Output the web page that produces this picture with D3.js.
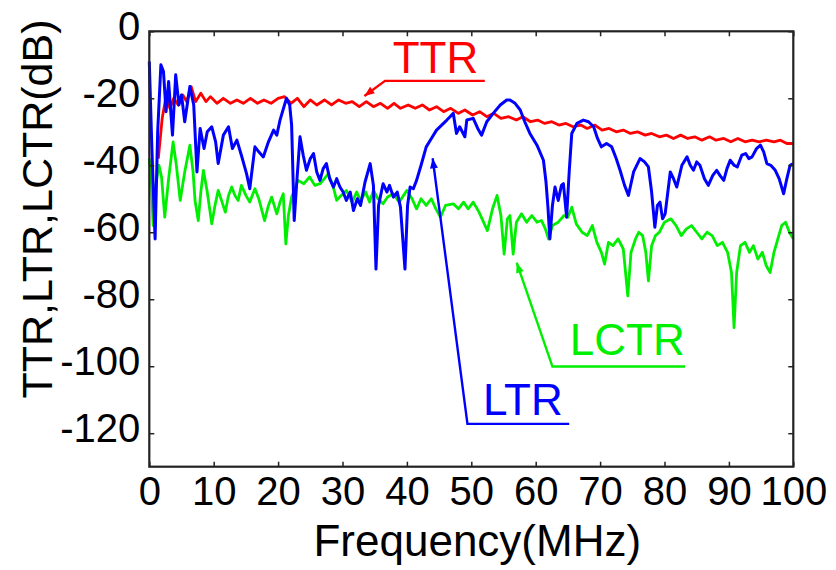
<!DOCTYPE html>
<html><head><meta charset="utf-8">
<script src="https://cdn.jsdelivr.net/npm/d3@7"></script>
<style>body{margin:0;background:#fff}svg{display:block}text{font-family:"Liberation Sans",Arial,sans-serif}</style>
</head><body><svg id="c" width="836" height="570"></svg>
<script>
const xTicks = [0,10,20,30,40,50,60,70,80,90,100];
const yTicks = [0,-20,-40,-60,-80,-100,-120];
const xLabel = "Frequency(MHz)";
const yLabel = "TTR,LTR,LCTR(dB)";

const ttrFreq = [1.4,2.0,2.6,3.2,3.8,4.5,5.2,5.8,6.5,7.2,8.0,8.8,9.5,10.5,11.5,12.6,13.6,14.6,15.7,16.8,17.8,18.9,20,21,22,23,24,25,26,27.2,28.3,29.4,30.5,31.5,32.6,33.7,34.8,35.9,37,38,39,40.2,41.3,42.4,43.5,44.6,45.7,46.8,48,49,50.2,51.3,52.4,53.5,54.6,55.8,57,58,59.2,60.3,61.4,62.5,63.6,64.7,65.8,67,68,69.2,70.3,71.4,72.5,73.6,74.7,75.8,77,78,79.2,80.3,81.4,82.5,83.6,84.7,85.8,87,88,89.2,90.3,91.4,92.5,93.6,94.7,95.8,97,98,99,100];
const ttrVals = [-38,-26,-19.5,-23,-20,-22,-19,-21,-16.5,-21,-18.5,-21,-19.5,-21.5,-20,-21.5,-20.5,-21.5,-20,-21.5,-20.5,-21.5,-20,-19.5,-21.5,-20,-22.5,-20.5,-22,-20.5,-22,-20.5,-21.5,-21,-22.5,-21,-22.5,-21.5,-23,-21.5,-23,-22,-23,-22,-23.5,-22.5,-24,-23,-24.5,-23.5,-25,-24,-25.5,-24.5,-26,-25.5,-26.5,-25.5,-27,-26.5,-27.5,-27,-28,-27.5,-28.5,-28,-29,-28,-29.5,-29,-30,-29.5,-30.5,-30,-31,-30.5,-31.5,-31,-32,-31,-32,-31.5,-32.5,-31.5,-32.5,-32,-33,-32,-33,-32.5,-33,-32.5,-33,-32.5,-33.5,-33.5];

const ltrFreq = [0,0.4,0.9,1.3,1.8,2.2,2.6,3.0,3.6,4.1,4.6,5.0,5.5,6.3,6.9,7.4,7.9,8.5,9.0,9.7,10.3,10.7,11.5,12.3,12.9,13.6,14.3,15.1,15.6,16.4,17.0,17.7,18.5,19.3,19.8,20.3,21.3,21.8,22.1,22.5,22.9,23.4,23.9,24.4,25.0,25.5,26.0,26.5,27.0,27.5,28.0,28.6,29.1,29.6,30.1,30.6,31.2,31.7,32.3,32.8,33.5,34.3,34.8,35.2,35.6,36.3,36.9,37.3,37.9,38.5,39.0,39.7,40.1,40.5,41.0,41.5,42.2,43.0,43.8,44.6,45.4,46.2,46.7,47.2,47.7,48.2,49.0,49.3,50.3,51.0,51.6,52.4,53.4,54.5,55.5,56.0,56.8,57.6,58.3,59.1,60.2,61.2,61.6,61.9,62.2,62.6,63.0,63.5,64.0,64.3,64.8,65.2,65.6,66.4,67.4,68.2,69.0,69.6,70.2,71.0,71.8,72.5,73.1,73.8,74.4,75.2,76.2,76.9,77.5,78.0,78.5,78.9,79.3,79.7,80.1,80.9,81.4,81.9,82.7,83.5,84.0,84.5,85.0,85.5,86.2,86.8,87.5,88.1,88.6,89.2,89.7,90.2,90.8,91.3,92.0,92.6,93.1,93.6,94.3,94.9,95.4,95.9,96.5,97.2,97.8,98.5,99.0,99.5,100];
const ltrVals = [-9,-35,-62,-30,-10,-12,-24,-15,-31,-13,-22,-19,-27,-16.5,-22,-42,-29,-35,-30,-28.5,-33,-39.5,-31,-28.5,-35,-32.5,-37,-42.5,-47,-34.5,-36,-37.5,-33,-29.5,-31,-26.5,-20,-22,-28,-56.5,-45,-31.5,-37,-41.5,-38,-36.5,-42,-44.5,-41,-39.5,-44,-46.5,-44,-46.5,-48,-50.5,-48,-53.5,-50,-52,-45,-39.5,-46,-71,-52,-45.5,-48,-46,-49.5,-48,-52.5,-71,-52,-46.5,-47,-44.5,-40,-34.5,-32,-29.5,-28,-26.5,-25.5,-24.5,-30.5,-28.5,-31.5,-26.5,-26,-29,-31,-27,-24.5,-22,-20.5,-20.5,-21.5,-23.5,-27,-30.5,-34,-38.5,-45,-52.5,-62,-52,-46.5,-50.5,-46,-45.5,-55.5,-42,-30.5,-27.5,-26.5,-27,-28.5,-32,-34.5,-33.5,-34.5,-38,-41.5,-46,-49,-42,-38,-39,-40.5,-48,-58.5,-52,-51,-56,-54.5,-42,-44,-46.5,-40,-37.5,-40,-41.5,-39,-40,-44,-46,-43,-41.5,-43,-44.5,-41,-38.5,-40,-40.5,-37,-36.5,-38,-37.5,-35,-34,-36,-39.5,-40,-41.5,-44,-48.5,-44,-40,-39.5];

const lctrFreq = [0,0.3,0.6,1.0,1.5,1.9,2.4,3.0,3.7,4.2,4.8,5.5,6.3,6.8,7.1,7.6,8.0,8.4,9.0,9.7,10.2,10.7,11.3,11.8,12.3,12.8,13.3,13.8,14.3,15.0,15.6,16.4,17.0,17.9,18.5,19.0,19.8,20.3,20.8,21.2,21.6,22.1,23.1,24.0,24.9,25.7,26.5,27.2,27.8,28.5,29.1,29.8,30.6,31.5,32.2,32.8,33.6,34.2,34.8,35.5,36.3,37.0,37.9,38.8,40.0,40.8,41.5,42.2,43.0,43.8,44.5,45.2,46.0,47.2,48.0,48.8,49.5,50.3,51.2,52.5,53.3,54.0,54.6,55.1,55.6,56.0,56.5,57.0,57.8,58.6,59.4,60.2,60.9,61.5,62.0,62.6,63.5,64.4,65.0,65.6,66.3,67.2,68.0,68.8,69.5,70.2,70.7,71.3,72.0,72.8,73.6,74.3,74.8,75.5,76.0,76.6,77.1,77.5,78.0,78.6,79.2,80.0,81.0,81.8,82.6,83.4,84.2,85.0,85.8,86.6,87.4,88.2,89.0,89.8,90.4,90.8,91.2,91.8,92.5,93.2,93.8,94.5,95.2,95.8,96.4,97.0,97.6,98.2,98.8,99.4,100];
const lctrVals = [-38,-44,-58,-46,-40,-43.5,-55.5,-44,-33,-40,-50.5,-42,-34,-42,-50.5,-56.5,-48,-41.5,-48,-57.5,-52,-47.5,-51,-54,-49,-46.5,-49,-50.5,-46,-49,-51,-47,-50,-56.5,-52,-49.5,-54.5,-51,-48.5,-63.5,-55,-49.5,-44.5,-45.5,-43.5,-46,-45.5,-44,-42.5,-46,-50.5,-49,-47.5,-51,-48,-50.5,-48,-51,-47.5,-50,-51.5,-49.5,-48.5,-51,-47.5,-50,-53,-50,-52,-50,-53,-55.5,-52,-51.5,-53,-51,-53,-51,-54,-59.5,-53,-49,-55,-66.5,-56,-55,-66.5,-57,-54.5,-57,-55,-57,-56.5,-59,-62,-58,-57,-55,-55.5,-52.5,-57.5,-60,-61,-58,-63,-66,-69.5,-63,-64,-62,-65,-79,-66,-62,-60,-61,-66,-74.5,-64,-61,-60,-57,-56,-58,-61,-59,-58,-60,-62,-60,-61,-64,-63,-66,-72,-88.5,-72,-64,-63,-66,-64,-68,-66,-70,-72,-66,-62,-58,-57,-60,-62];

// annotation labels, colours and anchor points in data coordinates
const annNames = ["TTR","LCTR","LTR"];
const annColors = ["#ff0000","#00ee00","#0000ff"];
const annText = [[37.8,-12.4],[65.3,-96.6],[51.8,-114.6]];
const annElbow = [[36.6,-14.8],[62.6,-100.1],[49.4,-117.2]];
const annEnd = [52.1,83.2,65.2];
const annTip = [[33.4,-19.3],[57.05,-69.1],[44.0,-37.9]];

const W=836,H=570;
const m={l:149.3,t:31.3,r:W-793.3,b:H-466.7};
const svg=d3.select("#c");
const x=d3.scaleLinear().domain([0,100]).range([m.l,W-m.r]);
const y=d3.scaleLinear().domain([-130,0]).range([H-m.b,m.t]);

const g=svg.append("g");
const line=d3.line().x(d=>x(d[0])).y(d=>y(d[1]));
const zip=(a,b)=>a.map((v,i)=>[v,b[i]]);
g.append("path").datum(zip(lctrFreq,lctrVals)).attr("d",line).attr("fill","none").attr("stroke","#00ee00").attr("stroke-width",2.8).attr("stroke-linejoin","round");
g.append("path").datum(zip(ttrFreq,ttrVals)).attr("d",line).attr("fill","none").attr("stroke","#ff0000").attr("stroke-width",2.8).attr("stroke-linejoin","round");
g.append("path").datum(zip(ltrFreq,ltrVals)).attr("d",line).attr("fill","none").attr("stroke","#0000ff").attr("stroke-width",3).attr("stroke-linejoin","round");

// axes
const tl=5;
const fmt=d=>String(d);
const axB=d3.axisBottom(x).tickValues(xTicks).tickSize(-tl).tickPadding(10).tickFormat(fmt);
const axT=d3.axisTop(x).tickValues(xTicks).tickSize(-tl).tickFormat("");
const axL=d3.axisLeft(y).tickValues(yTicks).tickSize(-tl).tickPadding(9).tickFormat(fmt);
const axR=d3.axisRight(y).tickValues(yTicks).tickSize(-tl).tickFormat("");
function style(sel){sel.select(".domain").remove();sel.selectAll("line").attr("stroke","#222").attr("stroke-width",1.5);sel.selectAll("text").attr("fill","#000").style("font-size","40px").style("font-family","'Liberation Sans',Arial,sans-serif");}
svg.append("g").attr("transform",`translate(0,${y(-130)})`).call(axB).call(style).selectAll("text").attr("dy","0.71em");
svg.append("g").attr("transform",`translate(0,${y(0)})`).call(axT).call(style);
svg.append("g").attr("transform",`translate(${x(0)},0)`).call(axL).call(style).selectAll("text").attr("dy","0.2em");
svg.append("g").attr("transform",`translate(${x(100)},0)`).call(axR).call(style);
svg.append("rect").attr("x",x(0)).attr("y",y(0)).attr("width",x(100)-x(0)).attr("height",y(-130)-y(0)).attr("fill","none").attr("stroke","#222").attr("stroke-width",2.2);

svg.append("text").attr("x",(x(0)+x(100))/2+6).attr("y",556).attr("text-anchor","middle").style("font-size","44px").text(xLabel);
svg.append("text").attr("transform",`translate(52,${209}) rotate(-90)`).attr("text-anchor","middle").style("font-size","43px").text(yLabel);

// annotations
annNames.forEach((n,i)=>{
  const c=annColors[i];
  const a=svg.append("g");
  a.append("text").attr("x",x(annText[i][0])).attr("y",y(annText[i][1])).attr("fill",c).style("font-size","44px").text(n);
  const ex=x(annElbow[i][0]),ey=y(annElbow[i][1]),tx=x(annTip[i][0]),ty=y(annTip[i][1]);
  a.append("polyline").attr("points",`${x(annEnd[i])},${ey} ${ex},${ey} ${tx},${ty}`).attr("fill","none").attr("stroke",c).attr("stroke-width",2.4);
  const ang=Math.atan2(ty-ey,tx-ex);
  const L=10,Wd=4;
  const bx=tx-L*Math.cos(ang),by=ty-L*Math.sin(ang);
  const px=-Math.sin(ang)*Wd,py=Math.cos(ang)*Wd;
  a.append("polygon").attr("points",`${tx},${ty} ${bx+px},${by+py} ${bx-px},${by-py}`).attr("fill",c);
});
</script></body></html>
